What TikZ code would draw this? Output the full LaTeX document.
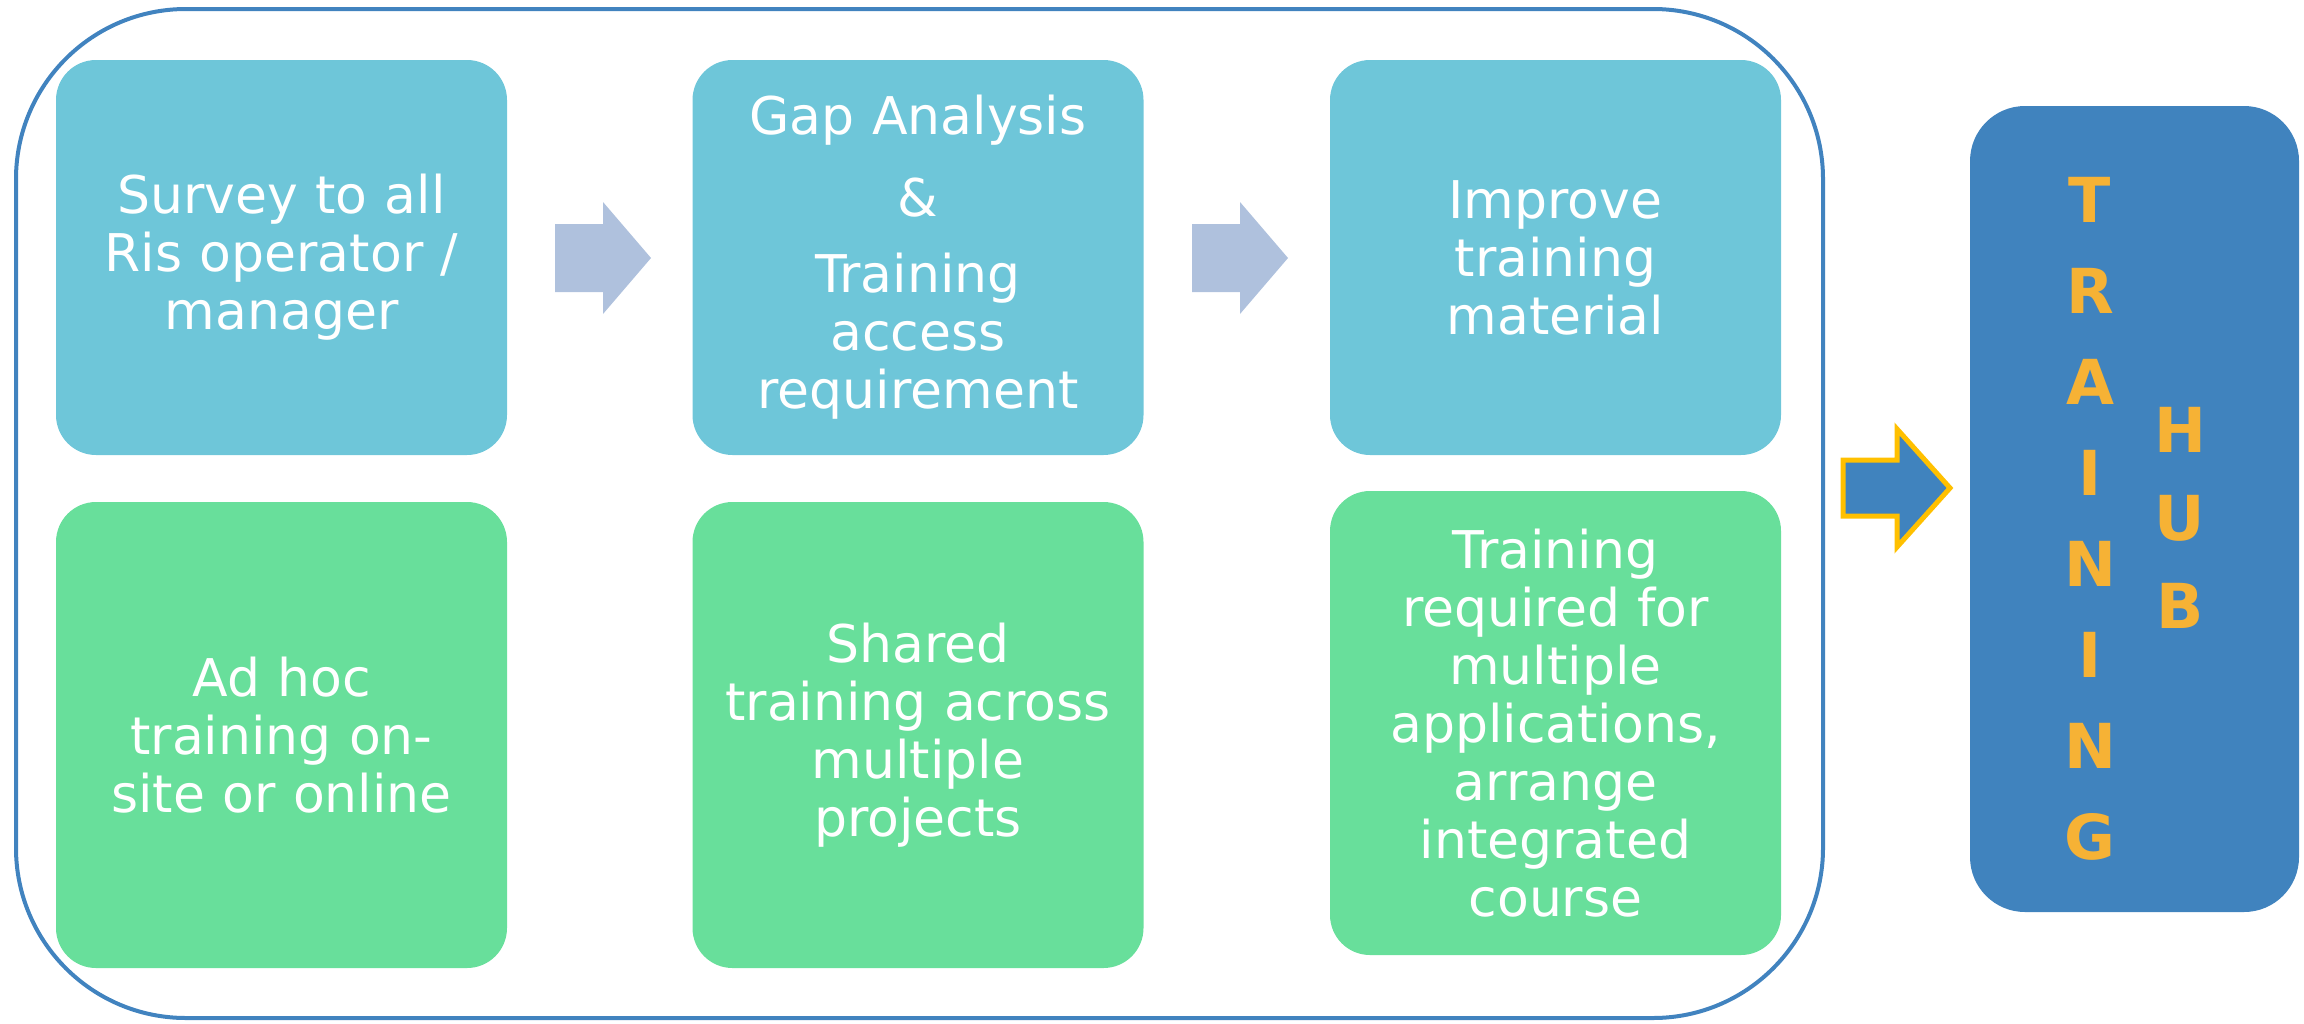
\documentclass[tikz,border=0pt]{standalone}
\usepackage{fontspec}
\setmainfont{DejaVu Sans}
\definecolor{stepcyan}{HTML}{6EC6D9}
\definecolor{stepgreen}{HTML}{68DF9B}
\definecolor{framblue}{HTML}{4183BF}
\definecolor{hubblue}{HTML}{4083BE}
\definecolor{arrowgrey}{HTML}{AFC1DD}
\definecolor{letterorange}{HTML}{F6B235}
\definecolor{arrowgold}{HTML}{FFC000}

\begin{document}
\begin{tikzpicture}[x=1pt, y=-1pt,
    stepbox/.style={rounded corners=40pt, inner sep=0pt, outer sep=0pt,
      minimum width=451pt, text width=430pt, align=center, text=white,
      font=\fontsize{52}{58}\selectfont},
    topbox/.style={stepbox, fill=stepcyan, minimum height=395pt},
    lowbox/.style={stepbox, fill=stepgreen, minimum height=466pt},
    hubletter/.style={text=letterorange, inner sep=0pt,
      font=\fontsize{62}{62}\selectfont\bfseries}]
    \useasboundingbox (0,0) rectangle (2304,1023);
    % outer frame
    \draw [framblue, line width=4pt, rounded corners=170pt]
    (16,9) rectangle (1823,1018);
    % main coordinates
    \coordinate (col-a) at (281.5,0) ;
    \coordinate (col-b) at (918,0) ;
    \coordinate (col-c) at (1555.5,0) ;
    % top row
    \node[topbox] (survey) at (col-a |- 0,257.5)
    {Survey to all\\Ris operator /\\manager};
    \node[topbox] (gap) at (col-b |- 0,257.5)
    {Gap Analysis\\[24pt]\&\\[18pt]Training\\access\\requirement};
    \node[topbox] (improve) at (col-c |- 0,257.5)
    {Improve\\training\\material};
    % bottom row
    \node[lowbox] (adhoc) at (col-a |- 0,735)
    {Ad hoc\\training on-\\site or online};
    \node[lowbox] (shared) at (col-b |- 0,735)
    {Shared\\training across\\multiple\\projects};
    \node[lowbox, minimum height=464pt] (required) at (col-c |- 0,723)
    {Training\\required for\\multiple\\applications,\\arrange\\integrated\\course};
    % block arrows between the top boxes
    \foreach \dx in {0,637}
    \fill [arrowgrey] (555+\dx,224) -- (603+\dx,224) -- (603+\dx,202)
    -- (651+\dx,258) -- (603+\dx,314) -- (603+\dx,292) -- (555+\dx,292) -- cycle;
    % arrow to the hub
    \filldraw [fill=hubblue, draw=arrowgold, line width=5pt, miter limit=4]
    (1843,460) -- (1897,460) -- (1897,429) -- (1950,488)
    -- (1897,547) -- (1897,516) -- (1843,516) -- cycle;
    % training hub
    \node[fill=hubblue, rounded corners=55pt, inner sep=0pt,
    minimum width=329pt, minimum height=806pt] (hub) at (2134.5,509) {};
    \foreach \l [count=\i] in {T,R,A,I,N,I,N,G}
    \node[hubletter] (train\i) at (2090,{109+91*\i}) {\l};
    \foreach \l [count=\i] in {H,U,B}
    \node[hubletter] (hub\i) at (2180,{342+88*\i}) {\l};
\end{tikzpicture}
\end{document}
